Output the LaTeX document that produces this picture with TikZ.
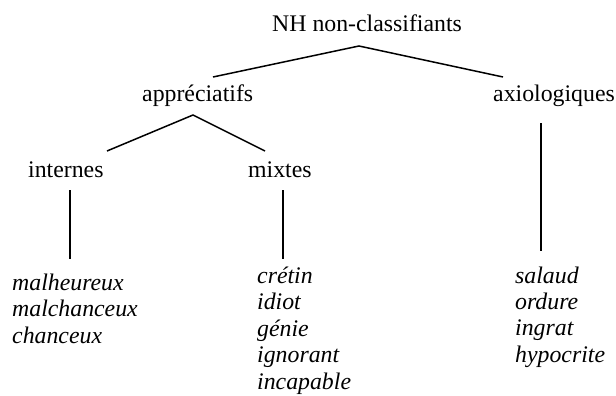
\documentclass[tikz,border=0pt]{standalone}
\usepackage{fontspec}
\setmainfont{Liberation Serif}
\begin{document}
\begin{tikzpicture}[x=1pt,y=-1pt,
  label/.style={anchor=base west,inner sep=0pt,font=\fontsize{23.8}{26.6}\selectfont},
  word/.style={label,font=\fontsize{23.8}{26.6}\selectfont\itshape},
  branch/.style={line width=1.5pt,line cap=butt}]
\useasboundingbox (0,0) rectangle (616,396);

% category labels
\node[label] (root) at (272,32) {NH non-classifiants};
\node[label] (appr) at (142,101) {appréciatifs};
\node[label] (axio) at (493,101) {axiologiques};
\node[label] (intr) at (28,177) {internes};
\node[label] (mixt) at (248,177) {mixtes};

% example words
\node[word] (w-malh) at (12,290) {malheureux};
\node[word] (w-malc) at (12,316.8) {malchanceux};
\node[word] (w-chan) at (12,343.4) {chanceux};

\node[word] (w-cret) at (257,283) {crétin};
\node[word] (w-idio) at (257,309.6) {idiot};
\node[word] (w-geni) at (257,336.2) {génie};
\node[word] (w-igno) at (257,362.8) {ignorant};
\node[word] (w-inca) at (257,389.4) {incapable};

\node[word] (w-sala) at (515,283) {salaud};
\node[word] (w-ordu) at (515,309.2) {ordure};
\node[word] (w-ingr) at (515,335.6) {ingrat};
\node[word] (w-hypo) at (515,362) {hypocrite};

% branch end points
\coordinate (root-j) at (359,46);
\coordinate (appr-top) at (213,77);
\coordinate (axio-top) at (503,77);
\coordinate (appr-j) at (193,115);
\coordinate (intr-top) at (107,151);
\coordinate (mixt-top) at (265,151);
\coordinate (intr-a) at (70,190);
\coordinate (intr-b) at (70,259);
\coordinate (mixt-a) at (283,190);
\coordinate (mixt-b) at (283,259);
\coordinate (axio-a) at (541,123);
\coordinate (axio-b) at (541,251);

% tree branches
\draw[branch] (appr-top) -- (root-j) -- (axio-top);
\draw[branch] (intr-top) -- (appr-j) -- (mixt-top);
\draw[branch] (intr-a) -- (intr-b);
\draw[branch] (mixt-a) -- (mixt-b);
\draw[branch] (axio-a) -- (axio-b);
\end{tikzpicture}
\end{document}
